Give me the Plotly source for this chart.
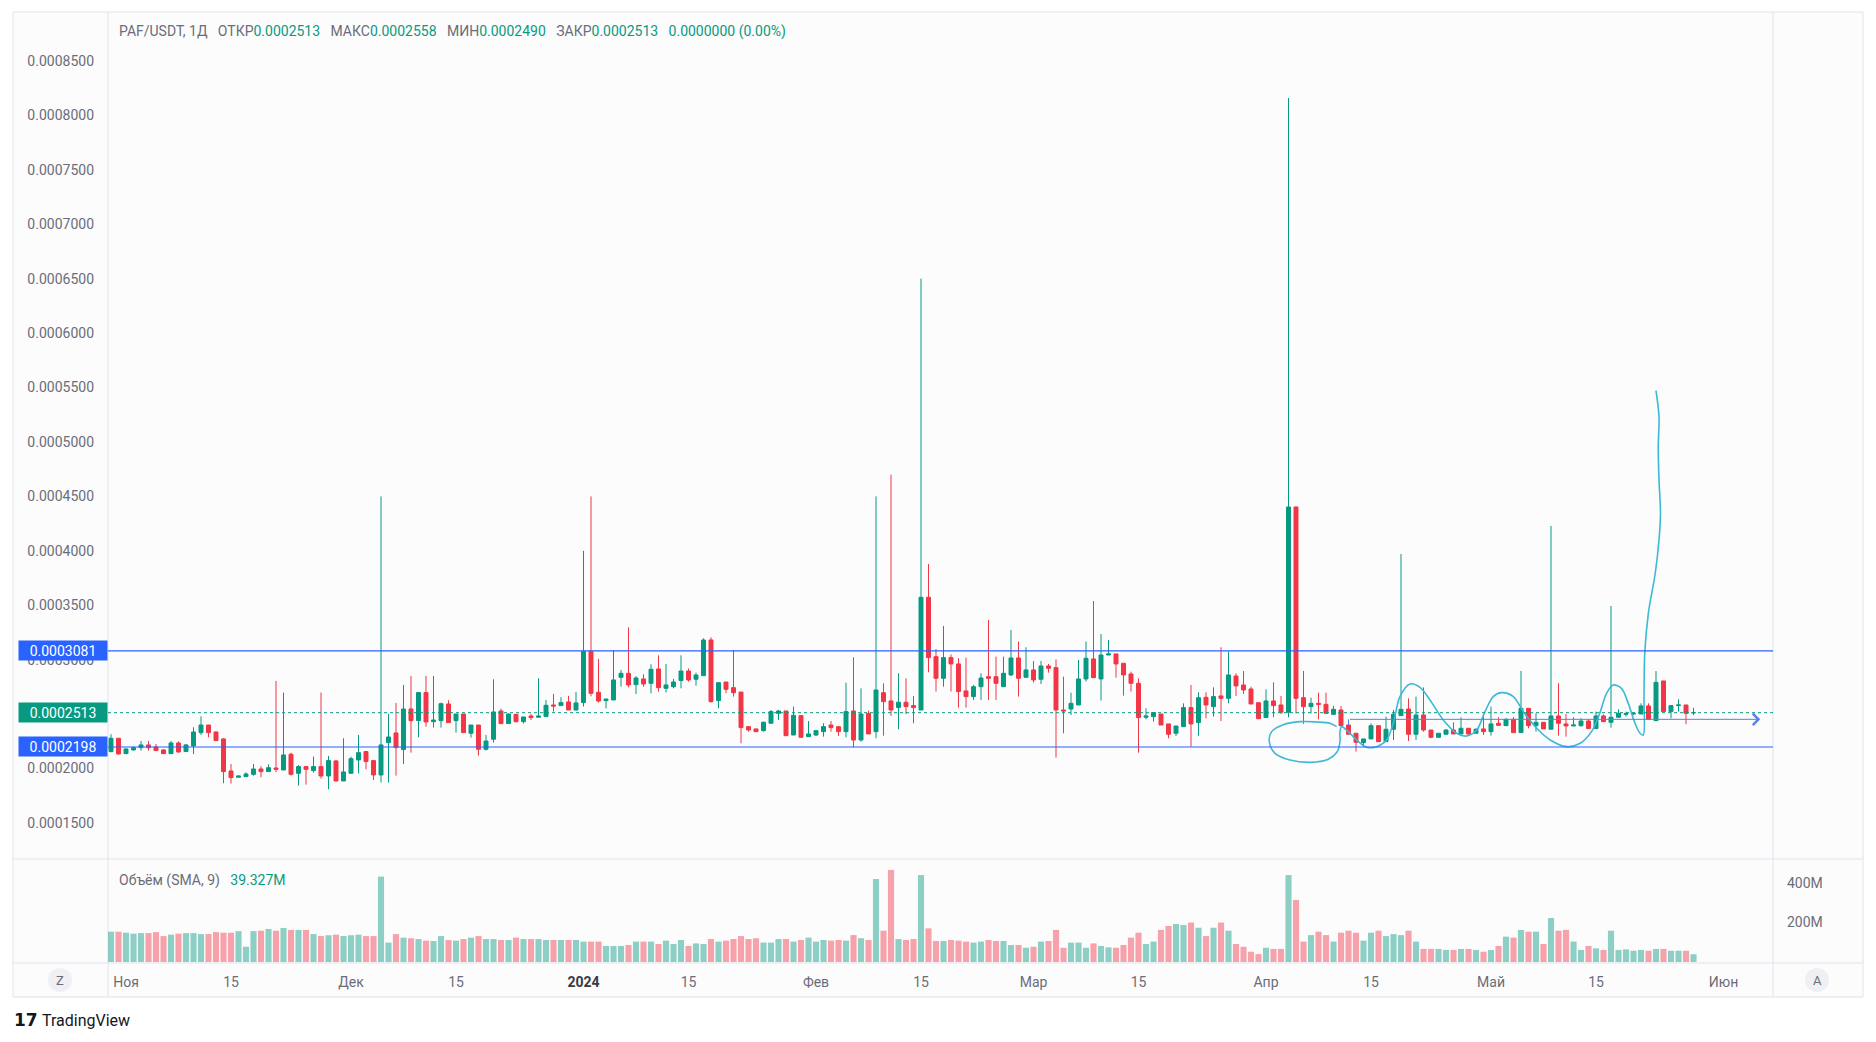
import numpy as np
import pandas as pd
import plotly.graph_objects as go

W, H = 1876, 1042

# ---------------- data ----------------
dates = pd.date_range("2023-10-30", periods=212, freq="D")

open_p = [
    0.0002156, 0.0002278, 0.0002137, 0.0002171, 0.0002192, 0.0002217, 0.0002198, 0.0002171, 0.0002137, 0.0002235,
    0.0002156, 0.0002208, 0.0002330, 0.0002400, 0.0002336, 0.0002272, 0.0001978, 0.0001920, 0.0001926, 0.0001947,
    0.0001996, 0.0001972, 0.0002005, 0.0001987, 0.0002131, 0.0001956, 0.0002018, 0.0001981, 0.0002018, 0.0001932,
    0.0002070, 0.0001886, 0.0001956, 0.0002079, 0.0002156, 0.0002073, 0.0001941, 0.0002238, 0.0002327, 0.0002174,
    0.0002547, 0.0002440, 0.0002698, 0.0002431, 0.0002440, 0.0002593, 0.0002440, 0.0002501, 0.0002324, 0.0002400,
    0.0002177, 0.0002269, 0.0002529, 0.0002413, 0.0002498, 0.0002431, 0.0002483, 0.0002471, 0.0002477, 0.0002584,
    0.0002578, 0.0002612, 0.0002538, 0.0002606, 0.0003077, 0.0002700, 0.0002624, 0.0002630, 0.0002838, 0.0002875,
    0.0002771, 0.0002823, 0.0002783, 0.0002915, 0.0002737, 0.0002752, 0.0002808, 0.0002896, 0.0002820, 0.0002853,
    0.0003181, 0.0002624, 0.0002795, 0.0002743, 0.0002703, 0.0002385, 0.0002364, 0.0002348, 0.0002416, 0.0002507,
    0.0002529, 0.0002308, 0.0002486, 0.0002293, 0.0002308, 0.0002339, 0.0002400, 0.0002385, 0.0002339, 0.0002529,
    0.0002262, 0.0002507, 0.0002339, 0.0002697, 0.0002621, 0.0002560, 0.0002609, 0.0002578, 0.0002538, 0.0003573,
    0.0003028, 0.0002829, 0.0003019, 0.0002961, 0.0002713, 0.0002661, 0.0002752, 0.0002844, 0.0002844, 0.0002752,
    0.0002860, 0.0003016, 0.0002838, 0.0002906, 0.0002820, 0.0002942, 0.0002927, 0.0002538, 0.0002547, 0.0002584,
    0.0002823, 0.0003007, 0.0002823, 0.0003043, 0.0003053, 0.0002967, 0.0002869, 0.0002783, 0.0002471, 0.0002477,
    0.0002501, 0.0002410, 0.0002324, 0.0002385, 0.0002560, 0.0002422, 0.0002654, 0.0002569, 0.0002667, 0.0002645,
    0.0002850, 0.0002768, 0.0002731, 0.0002605, 0.0002468, 0.0002621, 0.0002584, 0.0002517, 0.0004403, 0.0002651,
    0.0002569, 0.0002599, 0.0002590, 0.0002498, 0.0002538, 0.0002400, 0.0002324, 0.0002238, 0.0002272, 0.0002394,
    0.0002247, 0.0002361, 0.0002486, 0.0002547, 0.0002315, 0.0002492, 0.0002354, 0.0002287, 0.0002315, 0.0002354,
    0.0002318, 0.0002370, 0.0002324, 0.0002364, 0.0002339, 0.0002416, 0.0002394, 0.0002452, 0.0002330, 0.0002553,
    0.0002394, 0.0002425, 0.0002361, 0.0002483, 0.0002410, 0.0002391, 0.0002394, 0.0002437, 0.0002367, 0.0002483,
    0.0002425, 0.0002471, 0.0002498, 0.0002501, 0.0002501, 0.0002575, 0.0002440, 0.0002805, 0.0002523, 0.0002578,
    0.0002584, 0.0002513,
]

high_p = [
    0.0002315, 0.0002278, 0.0002185, 0.0002201, 0.0002253, 0.0002253, 0.0002226, 0.0002177, 0.0002253, 0.0002250,
    0.0002226, 0.0002379, 0.0002480, 0.0002400, 0.0002342, 0.0002278, 0.0002042, 0.0001938, 0.0001966, 0.0002042,
    0.0002021, 0.0002039, 0.0002805, 0.0002698, 0.0002146, 0.0002033, 0.0002024, 0.0002110, 0.0002698, 0.0002116,
    0.0002079, 0.0002278, 0.0002110, 0.0002309, 0.0002162, 0.0002073, 0.0004500, 0.0002502, 0.0002603, 0.0002768,
    0.0002851, 0.0002698, 0.0002851, 0.0002851, 0.0002606, 0.0002627, 0.0002501, 0.0002501, 0.0002400, 0.0002400,
    0.0002309, 0.0002820, 0.0002550, 0.0002508, 0.0002498, 0.0002474, 0.0002501, 0.0002829, 0.0002630, 0.0002685,
    0.0002655, 0.0002667, 0.0002704, 0.0004000, 0.0004500, 0.0003007, 0.0002639, 0.0003089, 0.0002906, 0.0003297,
    0.0002850, 0.0002866, 0.0002958, 0.0003040, 0.0002961, 0.0002823, 0.0003040, 0.0002918, 0.0002881, 0.0003196,
    0.0003206, 0.0002789, 0.0002795, 0.0003089, 0.0002703, 0.0002385, 0.0002364, 0.0002431, 0.0002538, 0.0002538,
    0.0002529, 0.0002569, 0.0002486, 0.0002437, 0.0002354, 0.0002416, 0.0002437, 0.0002385, 0.0002789, 0.0003022,
    0.0002737, 0.0002532, 0.0004500, 0.0002783, 0.0004700, 0.0002875, 0.0002829, 0.0002667, 0.0006500, 0.0003879,
    0.0003098, 0.0003310, 0.0003049, 0.0003013, 0.0003019, 0.0002768, 0.0002875, 0.0003365, 0.0003028, 0.0003028,
    0.0003273, 0.0003166, 0.0003114, 0.0002988, 0.0002988, 0.0002961, 0.0003003, 0.0002844, 0.0002697, 0.0002997,
    0.0003166, 0.0003539, 0.0003236, 0.0003181, 0.0003053, 0.0002967, 0.0002890, 0.0002829, 0.0002554, 0.0002514,
    0.0002501, 0.0002410, 0.0002391, 0.0002599, 0.0002768, 0.0002700, 0.0002700, 0.0002746, 0.0003114, 0.0003074,
    0.0002875, 0.0002896, 0.0002752, 0.0002605, 0.0002728, 0.0002792, 0.0002667, 0.0008160, 0.0004403, 0.0002896,
    0.0002651, 0.0002697, 0.0002697, 0.0002575, 0.0002575, 0.0002400, 0.0002324, 0.0002272, 0.0002416, 0.0002394,
    0.0002477, 0.0002538, 0.0003971, 0.0002645, 0.0002661, 0.0002746, 0.0002354, 0.0002324, 0.0002361, 0.0002425,
    0.0002471, 0.0002370, 0.0002370, 0.0002501, 0.0002569, 0.0002471, 0.0002462, 0.0002471, 0.0002896, 0.0002553,
    0.0002508, 0.0002425, 0.0004228, 0.0002783, 0.0002501, 0.0002471, 0.0002462, 0.0002455, 0.0002523, 0.0002498,
    0.0003493, 0.0002544, 0.0002523, 0.0002514, 0.0002599, 0.0002599, 0.0002896, 0.0002805, 0.0002578, 0.0002636,
    0.0002584, 0.0002558,
]

low_p = [
    0.0002149, 0.0002128, 0.0002137, 0.0002165, 0.0002165, 0.0002165, 0.0002165, 0.0002134, 0.0002137, 0.0002146,
    0.0002156, 0.0002134, 0.0002309, 0.0002287, 0.0002257, 0.0001865, 0.0001862, 0.0001920, 0.0001926, 0.0001935,
    0.0001920, 0.0001972, 0.0001966, 0.0001987, 0.0001935, 0.0001843, 0.0001852, 0.0001963, 0.0001907, 0.0001810,
    0.0001880, 0.0001886, 0.0001956, 0.0001956, 0.0001993, 0.0001895, 0.0001871, 0.0001871, 0.0001935, 0.0002042,
    0.0002146, 0.0002287, 0.0002385, 0.0002376, 0.0002376, 0.0002422, 0.0002330, 0.0002330, 0.0002284, 0.0002119,
    0.0002165, 0.0002238, 0.0002413, 0.0002413, 0.0002422, 0.0002413, 0.0002446, 0.0002471, 0.0002477, 0.0002523,
    0.0002578, 0.0002538, 0.0002532, 0.0002569, 0.0002664, 0.0002606, 0.0002553, 0.0002630, 0.0002752, 0.0002746,
    0.0002685, 0.0002752, 0.0002691, 0.0002707, 0.0002700, 0.0002737, 0.0002737, 0.0002798, 0.0002761, 0.0002853,
    0.0002605, 0.0002553, 0.0002691, 0.0002661, 0.0002232, 0.0002339, 0.0002339, 0.0002339, 0.0002416, 0.0002446,
    0.0002302, 0.0002308, 0.0002287, 0.0002293, 0.0002299, 0.0002293, 0.0002339, 0.0002299, 0.0002287, 0.0002195,
    0.0002247, 0.0002318, 0.0002278, 0.0002302, 0.0002483, 0.0002361, 0.0002501, 0.0002416, 0.0002538, 0.0002884,
    0.0002707, 0.0002752, 0.0002707, 0.0002560, 0.0002560, 0.0002630, 0.0002630, 0.0002630, 0.0002630, 0.0002752,
    0.0002850, 0.0002661, 0.0002838, 0.0002789, 0.0002777, 0.0002881, 0.0002100, 0.0002324, 0.0002492, 0.0002584,
    0.0002799, 0.0002835, 0.0002624, 0.0003043, 0.0002835, 0.0002670, 0.0002707, 0.0002146, 0.0002452, 0.0002431,
    0.0002400, 0.0002278, 0.0002299, 0.0002385, 0.0002201, 0.0002302, 0.0002461, 0.0002477, 0.0002437, 0.0002599,
    0.0002667, 0.0002685, 0.0002593, 0.0002458, 0.0002468, 0.0002471, 0.0002501, 0.0002471, 0.0002507, 0.0002410,
    0.0002507, 0.0002452, 0.0002507, 0.0002498, 0.0002394, 0.0002315, 0.0002155, 0.0002201, 0.0002272, 0.0002247,
    0.0002247, 0.0002262, 0.0002486, 0.0002253, 0.0002262, 0.0002339, 0.0002278, 0.0002287, 0.0002315, 0.0002318,
    0.0002318, 0.0002299, 0.0002324, 0.0002308, 0.0002302, 0.0002394, 0.0002394, 0.0002330, 0.0002330, 0.0002370,
    0.0002339, 0.0002364, 0.0002361, 0.0002302, 0.0002293, 0.0002391, 0.0002385, 0.0002367, 0.0002367, 0.0002431,
    0.0002376, 0.0002471, 0.0002477, 0.0002490, 0.0002501, 0.0002446, 0.0002440, 0.0002523, 0.0002461, 0.0002523,
    0.0002407, 0.0002490,
]

close_p = [
    0.0002278, 0.0002134, 0.0002180, 0.0002192, 0.0002217, 0.0002192, 0.0002165, 0.0002137, 0.0002235, 0.0002152,
    0.0002217, 0.0002336, 0.0002400, 0.0002330, 0.0002257, 0.0001972, 0.0001917, 0.0001932, 0.0001950, 0.0001996,
    0.0001972, 0.0002008, 0.0001993, 0.0002125, 0.0001947, 0.0002018, 0.0001993, 0.0002018, 0.0001932, 0.0002073,
    0.0001886, 0.0001969, 0.0002091, 0.0002146, 0.0002064, 0.0001941, 0.0002217, 0.0002290, 0.0002192, 0.0002547,
    0.0002440, 0.0002698, 0.0002428, 0.0002446, 0.0002596, 0.0002422, 0.0002501, 0.0002330, 0.0002400, 0.0002177,
    0.0002253, 0.0002520, 0.0002413, 0.0002501, 0.0002431, 0.0002474, 0.0002468, 0.0002483, 0.0002581, 0.0002575,
    0.0002606, 0.0002538, 0.0002603, 0.0003077, 0.0002691, 0.0002620, 0.0002639, 0.0002814, 0.0002875, 0.0002768,
    0.0002832, 0.0002777, 0.0002912, 0.0002743, 0.0002768, 0.0002795, 0.0002896, 0.0002814, 0.0002860, 0.0003181,
    0.0002615, 0.0002789, 0.0002728, 0.0002697, 0.0002376, 0.0002354, 0.0002339, 0.0002425, 0.0002523, 0.0002529,
    0.0002302, 0.0002489, 0.0002287, 0.0002318, 0.0002348, 0.0002385, 0.0002376, 0.0002339, 0.0002523, 0.0002262,
    0.0002501, 0.0002318, 0.0002722, 0.0002615, 0.0002538, 0.0002609, 0.0002569, 0.0002560, 0.0003573, 0.0003019,
    0.0002829, 0.0003019, 0.0002961, 0.0002707, 0.0002661, 0.0002752, 0.0002832, 0.0002829, 0.0002783, 0.0002875,
    0.0003016, 0.0002829, 0.0002906, 0.0002814, 0.0002942, 0.0002921, 0.0002538, 0.0002529, 0.0002599, 0.0002823,
    0.0003013, 0.0002835, 0.0003043, 0.0003053, 0.0002961, 0.0002860, 0.0002783, 0.0002468, 0.0002483, 0.0002514,
    0.0002400, 0.0002315, 0.0002391, 0.0002560, 0.0002410, 0.0002651, 0.0002584, 0.0002661, 0.0002645, 0.0002860,
    0.0002759, 0.0002722, 0.0002593, 0.0002458, 0.0002621, 0.0002578, 0.0002517, 0.0004403, 0.0002645, 0.0002569,
    0.0002599, 0.0002590, 0.0002507, 0.0002544, 0.0002394, 0.0002315, 0.0002241, 0.0002272, 0.0002394, 0.0002247,
    0.0002361, 0.0002498, 0.0002544, 0.0002315, 0.0002492, 0.0002354, 0.0002287, 0.0002324, 0.0002354, 0.0002318,
    0.0002370, 0.0002318, 0.0002361, 0.0002339, 0.0002410, 0.0002397, 0.0002452, 0.0002330, 0.0002553, 0.0002394,
    0.0002425, 0.0002364, 0.0002483, 0.0002416, 0.0002391, 0.0002400, 0.0002437, 0.0002367, 0.0002483, 0.0002431,
    0.0002471, 0.0002507, 0.0002504, 0.0002507, 0.0002575, 0.0002452, 0.0002792, 0.0002523, 0.0002578, 0.0002584,
    0.0002507, 0.0002513,
]

volume_m = [
    153, 153, 148, 143, 146, 146, 151, 131, 138, 143,
    146, 146, 141, 141, 151, 148, 148, 156, 77, 156,
    158, 167, 158, 172, 162, 162, 162, 141, 131, 135,
    138, 131, 135, 138, 131, 131, 431, 98, 141, 123,
    120, 116, 108, 106, 131, 111, 108, 116, 123, 131,
    116, 116, 111, 111, 123, 116, 116, 116, 111, 111,
    111, 111, 111, 103, 103, 103, 81, 81, 81, 86,
    103, 103, 103, 91, 108, 91, 111, 81, 94, 91,
    116, 103, 108, 116, 131, 116, 120, 98, 98, 116,
    116, 103, 111, 123, 103, 111, 108, 111, 108, 136,
    120, 111, 419, 158, 465, 116, 111, 116, 439, 170,
    106, 106, 111, 108, 103, 98, 103, 111, 106, 106,
    86, 86, 72, 77, 103, 106, 162, 72, 98, 98,
    72, 94, 81, 74, 72, 86, 123, 148, 91, 103,
    162, 182, 192, 187, 199, 173, 131, 173, 199, 158,
    91, 77, 52, 40, 72, 66, 66, 439, 313, 103,
    136, 153, 136, 103, 148, 158, 148, 108, 148, 158,
    131, 141, 136, 158, 103, 66, 66, 66, 61, 61,
    66, 66, 61, 52, 61, 81, 128, 123, 162, 153,
    153, 91, 222, 158, 162, 103, 61, 81, 69, 61,
    158, 61, 64, 57, 61, 57, 66, 66, 57, 57,
    57, 39.327,
]

level_top = 0.0003081
level_bottom = 0.0002198
last_price = 0.0002513

price_ticks = [0.00015, 0.0002, 0.00025, 0.0003, 0.00035, 0.0004, 0.00045, 0.0005,
               0.00055, 0.0006, 0.00065, 0.0007, 0.00075, 0.0008, 0.00085]
volume_ticks_m = [200, 400]
volume_tick_text = ["200M", "400M"]

tick_dates = ["2023-11-01", "2023-11-15", "2023-12-01", "2023-12-15", "2024-01-01",
              "2024-01-15", "2024-02-01", "2024-02-15", "2024-03-01", "2024-03-15",
              "2024-04-01", "2024-04-15", "2024-05-01", "2024-05-15", "2024-06-01"]
tick_text = ["Ноя", "15", "Дек", "15", "<b><span style='color:#363a45'>2024</span></b>", "15", "Фев", "15",
             "Мар", "15", "Апр", "15", "Май", "15", "Июн"]

# arrow drawing (bar number, price)
arrow_start_bar = 166.0
arrow_end_bar = 220.9
arrow_price = 0.0002452
arrow_tick_low = 0.0002400

# free-hand cyan drawing (bar number, price)
draw_bar = [164.42, 163.53, 161.75, 159.53, 157.3, 155.75, 155.44, 156.2, 158.2, 160.86,
            163.3, 164.5, 164.86, 164.86, 165.08, 165.97, 167.1, 168.42, 169.75, 171.08,
            171.97, 172.86, 174.2, 175.53, 176.86, 178.64, 180.42, 181.75, 183.1, 184.2,
            185.3, 186.4, 187.98, 189.3, 191.1, 192.9, 195.1, 196.9, 198.4, 199.5,
            200.4, 201.3, 202.4, 203.3, 204.2, 204.87, 205.3, 205.4, 205.5, 205.98,
            206.9, 207.4, 207.6, 207.4, 207.3, 207.4, 207.0]
draw_price = [0.0002385, 0.0002416, 0.0002428, 0.0002431, 0.0002403, 0.0002339, 0.0002247, 0.0002140, 0.0002079, 0.0002057,
              0.0002085, 0.0002155, 0.0002247, 0.0002339, 0.0002385, 0.0002339, 0.0002262, 0.0002195, 0.0002201, 0.0002262,
              0.0002416, 0.0002661, 0.0002777, 0.0002746, 0.0002630, 0.0002446, 0.0002324, 0.0002299, 0.0002354, 0.0002523,
              0.0002661, 0.0002697, 0.0002661, 0.0002523, 0.0002370, 0.0002262, 0.0002201, 0.0002232, 0.0002339, 0.0002508,
              0.0002691, 0.0002768, 0.0002737, 0.0002599, 0.0002416, 0.0002324, 0.0002308, 0.0002660, 0.0003059, 0.0003426,
              0.0003794, 0.0004100, 0.0004345, 0.0004651, 0.0004957, 0.0005232, 0.0005471]

# ---------------- styling / geometry ----------------
UP = "#089981"
DOWN = "#f23645"
UP_VOL = "rgba(8,153,129,0.45)"
DOWN_VOL = "rgba(242,54,69,0.45)"
LEVEL = "#2962ff"
ARROW = "#5b7fe6"
DRAW = "#3cb9d7"
TXT = "#6a6d78"
BORDER = "#e0e3eb"
FONT = "Roboto, Open Sans, sans-serif"

PL, PR = 108, 1773
TOP, SPLIT, VBOT, FBOT = 12, 859, 963, 997
FL, FR = 13, 1863


def fx(px):
    return px / W


def fy(py):
    return 1 - py / H


def bar_date(b):
    return dates[0] + pd.Timedelta(days=float(b) - 1.0)


x_range = [bar_date(0.6), bar_date(222.6)]

vol_colors = [UP_VOL if c >= o else DOWN_VOL for o, c in zip(open_p, close_p)]

fig = go.Figure()

fig.add_trace(go.Candlestick(
    x=dates, open=open_p, high=high_p, low=low_p, close=close_p,
    increasing=dict(line=dict(color=UP, width=1), fillcolor=UP),
    decreasing=dict(line=dict(color=DOWN, width=1), fillcolor=DOWN),
    whiskerwidth=0, xaxis="x", yaxis="y", showlegend=False, hoverinfo="skip",
))

fig.add_trace(go.Bar(
    x=dates, y=[v * 1e6 for v in volume_m], marker=dict(color=vol_colors, line=dict(width=0)),
    xaxis="x2", yaxis="y2", showlegend=False, hoverinfo="skip",
))

fig.add_trace(go.Scatter(
    x=[bar_date(b) for b in draw_bar], y=draw_price, mode="lines",
    line=dict(color=DRAW, width=1.6, shape="spline", smoothing=0.9),
    xaxis="x", yaxis="y", showlegend=False, hoverinfo="skip",
))

shapes = []
# frame + background
shapes.append(dict(type="rect", xref="paper", yref="paper", x0=fx(FL), x1=fx(FR), y0=fy(FBOT), y1=fy(TOP),
                   line=dict(color=BORDER, width=1), fillcolor="#fcfcfd", layer="below"))
for xv in (PL, PR):
    shapes.append(dict(type="line", xref="paper", yref="paper", x0=fx(xv), x1=fx(xv), y0=fy(FBOT), y1=fy(TOP),
                       line=dict(color=BORDER, width=1), layer="below"))
for yv in (SPLIT, VBOT):
    shapes.append(dict(type="line", xref="paper", yref="paper", x0=fx(FL), x1=fx(FR), y0=fy(yv), y1=fy(yv),
                       line=dict(color=BORDER, width=1), layer="below"))
# level lines
for lv in (level_top, level_bottom):
    shapes.append(dict(type="line", xref="paper", yref="y", x0=fx(PL), x1=fx(PR), y0=lv, y1=lv,
                       line=dict(color=LEVEL, width=1.1), layer="above"))
# last price dotted line
shapes.append(dict(type="line", xref="paper", yref="y", x0=fx(PL), x1=fx(PR), y0=last_price, y1=last_price,
                   line=dict(color=UP, width=1, dash="dot"), layer="above"))
# arrow start tick
shapes.append(dict(type="line", xref="x", yref="y", x0=bar_date(arrow_start_bar), x1=bar_date(arrow_start_bar),
                   y0=arrow_price, y1=arrow_tick_low, line=dict(color=ARROW, width=1), layer="above"))
# Z / A circles
for cx in (60, 1817):
    shapes.append(dict(type="circle", xref="paper", yref="paper", x0=fx(cx - 12), x1=fx(cx + 12),
                       y0=fy(980 + 12), y1=fy(980 - 12), line=dict(width=0), fillcolor="#eef0f4", layer="below"))

annotations = []
# arrow
annotations.append(dict(x=bar_date(arrow_end_bar), y=arrow_price, ax=bar_date(arrow_start_bar), ay=arrow_price,
                        xref="x", yref="y", axref="x", ayref="y", text="", showarrow=True,
                        arrowhead=4, arrowsize=2.2, arrowwidth=1, arrowcolor=ARROW))

sp = "\u00a0"
gap = sp * 3
legend_txt = (f'<span style="color:{TXT}">PAF/USDT, 1Д{gap}ОТКР</span><span style="color:{UP}">0.0002513</span>'
              f'<span style="color:{TXT}">{gap}МАКС</span><span style="color:{UP}">0.0002558</span>'
              f'<span style="color:{TXT}">{gap}МИН</span><span style="color:{UP}">0.0002490</span>'
              f'<span style="color:{TXT}">{gap}ЗАКР</span><span style="color:{UP}">0.0002513</span>'
              f'<span style="color:{UP}">{gap}0.0000000 (0.00%)</span>')
annotations.append(dict(x=fx(117), y=fy(32), xref="paper", yref="paper", xanchor="left", yanchor="middle",
                        text=legend_txt, showarrow=False, font=dict(family=FONT, size=14, color=TXT)))
annotations.append(dict(x=fx(117), y=fy(880), xref="paper", yref="paper", xanchor="left", yanchor="middle",
                        text=f'<span style="color:{TXT}">Объём (SMA, 9){gap}</span><span style="color:{UP}">39.327M</span>',
                        showarrow=False, font=dict(family=FONT, size=14, color=TXT)))

# price labels on the axis
for val, col in ((level_top, LEVEL), (level_bottom, LEVEL), (last_price, UP)):
    annotations.append(dict(x=fx(PL), y=val, xref="paper", yref="y", xanchor="right", yanchor="middle",
                            text=f"{val:.7f}", showarrow=False, bgcolor=col, width=86, height=17, borderpad=1,
                            font=dict(family=FONT, size=14, color="white")))

annotations.append(dict(x=fx(60), y=fy(980), xref="paper", yref="paper", xanchor="center", yanchor="middle",
                        text="Z", showarrow=False, font=dict(family=FONT, size=13, color=TXT)))
annotations.append(dict(x=fx(1817), y=fy(980), xref="paper", yref="paper", xanchor="center", yanchor="middle",
                        text="A", showarrow=False, font=dict(family=FONT, size=13, color=TXT)))
annotations.append(dict(x=fx(12), y=fy(1020), xref="paper", yref="paper", xanchor="left", yanchor="middle",
                        text="<b>17</b>", showarrow=False,
                        font=dict(family="DejaVu Sans", size=17, color="#131722")))
annotations.append(dict(x=fx(40), y=fy(1020), xref="paper", yref="paper", xanchor="left", yanchor="middle",
                        text="TradingView", showarrow=False,
                        font=dict(family=FONT, size=16, color="#131722")))

fig.update_layout(
    width=W, height=H, margin=dict(l=0, r=0, t=0, b=0),
    paper_bgcolor="white", plot_bgcolor="rgba(0,0,0,0)",
    showlegend=False, hovermode=False, boxgap=0.25, bargap=0.18,
    font=dict(family=FONT, size=14, color=TXT),
    xaxis=dict(domain=[fx(PL), fx(PR)], anchor="y", type="date", range=x_range,
               showticklabels=False, showgrid=False, zeroline=False, showline=False,
               rangeslider=dict(visible=False)),
    yaxis=dict(domain=[fy(SPLIT), fy(TOP)], anchor="x", range=[0.0001169, 0.000895],
               tickvals=price_ticks, tickformat=".7f", showgrid=False, zeroline=False, showline=False,
               ticks="", ticklabelstandoff=13, tickfont=dict(family=FONT, size=14, color=TXT)),
    xaxis2=dict(domain=[fx(PL), fx(PR)], anchor="y2", type="date", range=x_range,
                tickvals=tick_dates, ticktext=tick_text, showgrid=False, zeroline=False, showline=False,
                ticks="", ticklabelstandoff=9, tickfont=dict(family=FONT, size=14, color=TXT)),
    yaxis2=dict(domain=[fy(VBOT), fy(SPLIT)], anchor="x2", side="right", range=[-5e6, 520e6],
                tickvals=[v * 1e6 for v in volume_ticks_m], ticktext=volume_tick_text,
                showgrid=False, zeroline=False, showline=False, ticks="", ticklabelstandoff=13,
                tickfont=dict(family=FONT, size=14, color=TXT)),
    shapes=shapes, annotations=annotations,
)

fig.write_html("out.html", config={"displayModeBar": False},
               post_script="document.body.style.margin='0';document.body.style.overflow='hidden';")
